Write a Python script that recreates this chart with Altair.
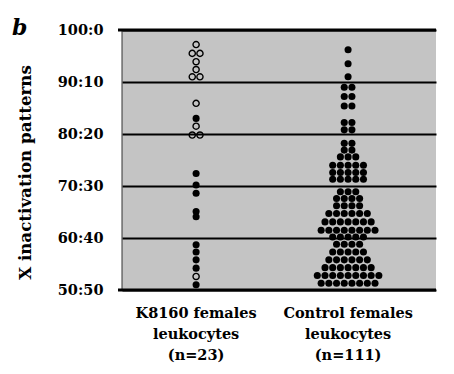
import altair as alt
import pandas as pd

# ---- data ----
groups = ["K8160", "Control"]
group_pos = [23.6, 72.0]
group_labels = ["K8160 females\nleukocytes\n(n=23)", "Control females\nleukocytes\n(n=111)"]

# K8160 females: open circles and filled circles (X inactivation, % of major allele)
k_open = [97.2, 95.5, 95.5, 93.9, 92.4, 91.0, 91.0, 85.9, 81.5, 79.8, 79.8, 52.6]
k_filled = [83.0, 72.4, 70.2, 68.6, 65.1, 64.1, 58.7, 57.3, 55.8, 54.2, 51.0]

# Control females: value of each row and number of dots in that row
ctrl_values = [96.2, 93.5, 91.0, 89.0, 87.2, 85.4, 82.2, 80.8, 78.2, 76.9, 75.6, 74.0,
               72.6, 71.3, 68.9, 67.6, 66.2, 64.7, 63.1, 61.5, 60.2, 58.8, 57.3, 55.8,
               54.3, 52.8, 51.3]
ctrl_counts = [1, 1, 1, 2, 2, 2, 2, 2, 2, 2, 3, 5,
               5, 5, 3, 4, 4, 6, 7, 8, 5, 4, 5, 6,
               7, 9, 8]

y_ticks = [50, 60, 70, 80, 90, 100]
y_tick_labels = ["50:50", "60:40", "70:30", "80:20", "90:10", "100:0"]
border_values = [50, 100]

# ---- build table ----
rows = []
for v in k_open:
    rows.append(("K8160", v, "open"))
for v in k_filled:
    rows.append(("K8160", v, "filled"))
for v, c in zip(ctrl_values, ctrl_counts):
    rows += [("Control", v, "filled")] * c
df = pd.DataFrame(rows, columns=["group", "value", "style"])
df["n"] = df.groupby(["group", "value"])["value"].transform("size")
df["i"] = df.groupby(["group", "value"]).cumcount()
pos = dict(zip(groups, group_pos))
SP = 2.45
df["x"] = df["group"].map(pos) + (df["i"] - (df["n"] - 1) / 2) * SP

label_expr = "".join(f"datum.value == {v} ? '{l}' : " for v, l in zip(y_ticks, y_tick_labels)) + "''"

FONT = "DejaVu Serif"

x_enc = alt.X("x:Q", scale=alt.Scale(domain=[0, 100], nice=False, zero=False), axis=None)
y_enc = alt.Y(
    "value:Q",
    scale=alt.Scale(domain=[50, 100], nice=False, zero=False),
    axis=alt.Axis(
        values=y_ticks, labelExpr=label_expr, grid=True, gridColor="black",
        gridWidth=2, gridOpacity=1, domain=False, ticks=False,
        labelFont=FONT, labelFontWeight="bold", labelFontSize=14.5, labelColor="black",
        labelPadding=19,
        title="X inactivation patterns", titleFont=FONT, titleFontSize=16.7,
        titleFontWeight="bold", titleColor="black", titleAngle=-90,
        titleX=-97, titleY=142, titleAlign="center", titleBaseline="middle",
    ),
)

base = alt.Chart(df)

filled = base.transform_filter("datum.style == 'filled'").mark_circle(
    size=50, color="black", opacity=1
).encode(x=x_enc, y=y_enc)

opened = base.transform_filter("datum.style == 'open'").mark_point(
    shape="circle", size=38, filled=False, stroke="black", strokeWidth=1.4, opacity=1
).encode(x=x_enc, y=alt.Y("value:Q"))

borders = alt.Chart(pd.DataFrame({"value": border_values})).mark_rule(
    color="black", strokeWidth=3
).encode(y=alt.Y("value:Q"), x=alt.value(-4), x2=alt.value(314))

left_border = alt.Chart(pd.DataFrame({"a": [0]})).mark_rule(
    color="#333333", strokeWidth=1
).encode(x=alt.value(0), y=alt.value(0), y2=alt.value(260))

cats = alt.Chart(pd.DataFrame({"x": group_pos, "label": group_labels})).mark_text(
    font=FONT, fontWeight="bold", fontSize=14.5, lineBreak="\n", lineHeight=21,
    baseline="alphabetic", align="center", color="black"
).encode(x=alt.X("x:Q"), y=alt.value(288), text="label:N")

panel = alt.Chart(pd.DataFrame({"t": ["b"]})).mark_text(
    font=FONT, fontStyle="italic", fontWeight="bold", fontSize=22,
    align="left", baseline="alphabetic", color="black"
).encode(x=alt.value(-110), y=alt.value(5), text="t:N")

chart = alt.layer(left_border, borders, filled, opened, cats, panel).properties(
    width=314, height=260,
    autosize=alt.AutoSizeParams(type="none"),
    padding={"left": 114, "top": 22, "right": 10, "bottom": 76},
    background="white",
).configure_view(fill="#c4c4c4", strokeWidth=0)

chart.save("out.html", embed_options={"renderer": "svg", "actions": False})
